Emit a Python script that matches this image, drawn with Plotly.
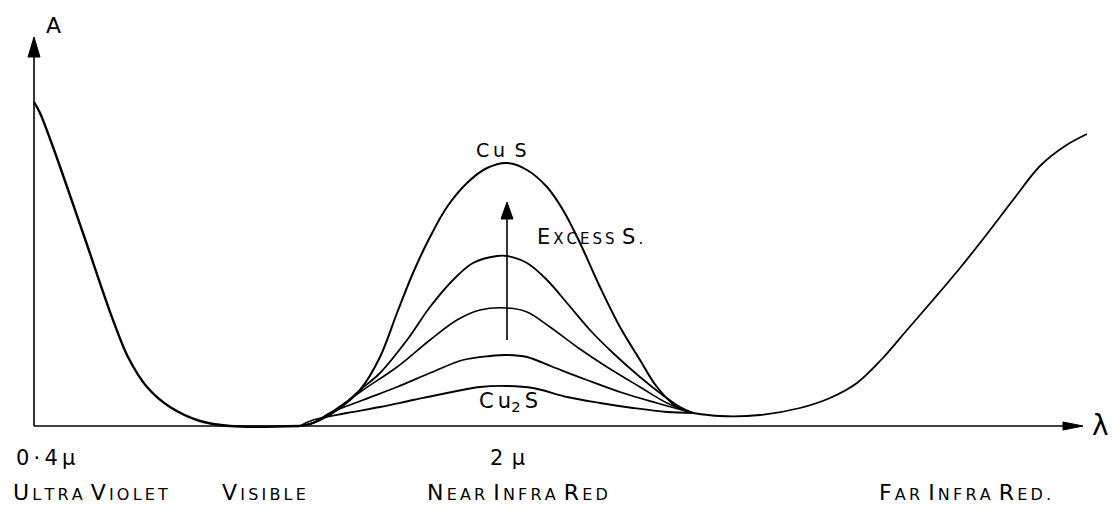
import plotly.graph_objects as go

# Schematic absorption spectrum of copper sulphides (arbitrary units)
# x: wavelength position (arb.), y: absorbance A (arb.)
uv_x = [0, 6, 19, 49, 79, 94, 113, 136, 166, 196, 266]
uv_y = [324, 313, 279, 193, 106, 69, 39, 19, 5, 0, 0]

cus_x = [266, 279, 303, 326, 346, 363, 379, 396, 413, 433, 453, 473, 493, 513, 529, 546, 566, 586, 606, 623, 643, 659]
cus_y = [0, 3, 16, 36, 69, 113, 153, 189, 219, 243, 258, 263, 256, 239, 216, 183, 139, 99, 66, 39, 19, 13]

c2_x = [266, 279, 303, 326, 346, 373, 396, 419, 439, 463, 473, 493, 513, 533, 556, 579, 606, 626, 646, 659]
c2_y = [0, 3, 16, 36, 53, 86, 119, 146, 163, 170, 170, 163, 146, 123, 96, 73, 49, 33, 19, 13]

c3_x = [266, 279, 296, 329, 363, 396, 423, 446, 473, 493, 516, 543, 573, 606, 633, 659]
c3_y = [0, 3, 13, 36, 59, 86, 106, 116, 118, 114, 99, 79, 59, 39, 23, 13]

c4_x = [266, 279, 296, 329, 363, 396, 429, 456, 473, 493, 519, 553, 589, 623, 659]
c4_y = [0, 3, 13, 26, 39, 53, 66, 70, 71, 69, 59, 46, 33, 23, 13]

cu2s_x = [266, 279, 313, 346, 379, 413, 446, 473, 499, 533, 566, 599, 633, 659]
cu2s_y = [0, 6, 13, 19, 26, 33, 39, 40, 38, 29, 23, 18, 14, 13]

fir_x = [659, 686, 726, 766, 796, 823, 848, 873, 899, 926, 953, 979, 1006, 1031, 1053]
fir_y = [13, 10, 11, 18, 28, 43, 67, 96, 126, 158, 192, 226, 260, 280, 292]

series = [
    (uv_x, uv_y, 2.4),
    (cus_x, cus_y, 2.0),
    (c2_x, c2_y, 1.8),
    (c3_x, c3_y, 1.6),
    (c4_x, c4_y, 1.8),
    (cu2s_x, cu2s_y, 1.8),
    (fir_x, fir_y, 1.8),
]

fig = go.Figure()
for xs, ys, w in series:
    fig.add_trace(go.Scatter(x=xs, y=ys, mode="lines",
                             line=dict(color="black", width=w, shape="spline", smoothing=1.0),
                             hoverinfo="skip"))

# axes with arrowheads
shapes = [
    dict(type="line", x0=0, y0=0, x1=1035, y1=0, line=dict(color="black", width=1.6)),
    dict(type="line", x0=0, y0=0, x1=0, y1=372, line=dict(color="black", width=1.6)),
    dict(type="path", path="M -6,369 L 0,389 L 6,369 Z", fillcolor="black", line=dict(color="black", width=1)),
    dict(type="path", path="M 1029,-4 L 1049,0 L 1029,4 Z", fillcolor="black", line=dict(color="black", width=1)),
    # "excess S" arrow
    dict(type="line", x0=473, y0=86, x1=473, y1=210, line=dict(color="black", width=1.6)),
    dict(type="path", path="M 467,207 L 473,224 L 479,207 Z", fillcolor="black", line=dict(color="black", width=1)),
]

FONT = "DejaVu Sans"
SP = "\u2009"


def spaced(s):
    return SP.join(s)


def sc(word, big, small):
    return (f"<span style='font-size:{big}px'>{word[0]}</span>"
            f"{SP}<span style='font-size:{small}px'>{spaced(word[1:])}</span>")


def scp(phrase, big=22, small=16):
    return "\u2002".join(sc(w, big, small) for w in phrase.split(" "))


annotations = [
    dict(x=19, y=401, text="A", font=dict(size=22)),
    dict(x=1066, y=1, text="λ", font=dict(size=28)),
    dict(x=-20, y=-32, text=spaced("0·4μ"), xanchor="left", font=dict(size=21)),
    dict(x=454, y=-32, text="2" + SP + SP + "μ", xanchor="left", font=dict(size=21)),
    dict(x=-23, y=-66, text=scp("ULTRA VIOLET"), xanchor="left", font=dict(size=16)),
    dict(x=186, y=-66, text=scp("VISIBLE"), xanchor="left", font=dict(size=16)),
    dict(x=391, y=-66, text=scp("NEAR INFRA RED"), xanchor="left", font=dict(size=16)),
    dict(x=843, y=-66, text=scp("FAR INFRA RED."), xanchor="left", font=dict(size=16)),
    dict(x=467, y=276, text=spaced("Cu") + "\u2002S", font=dict(size=19)),
    dict(x=474, y=24, text=f"C{SP}u<sub>2</sub>{SP}S", font=dict(size=21)),
    dict(x=501, y=189, text=scp("EXCESS S.", 21, 15), xanchor="left", font=dict(size=15)),
]
for a in annotations:
    a["font"]["family"] = FONT
    a["font"]["color"] = "black"
    a.update(showarrow=False, xref="x", yref="y")

fig.update_layout(
    width=1114, height=510,
    margin=dict(l=0, r=0, t=0, b=0),
    paper_bgcolor="white", plot_bgcolor="white",
    showlegend=False,
    xaxis=dict(visible=False, range=[-34, 1080], fixedrange=True),
    yaxis=dict(visible=False, range=[-84, 426], fixedrange=True),
    shapes=shapes,
    annotations=annotations,
    font=dict(family=FONT, color="black"),
)

fig.write_html("out.html")
